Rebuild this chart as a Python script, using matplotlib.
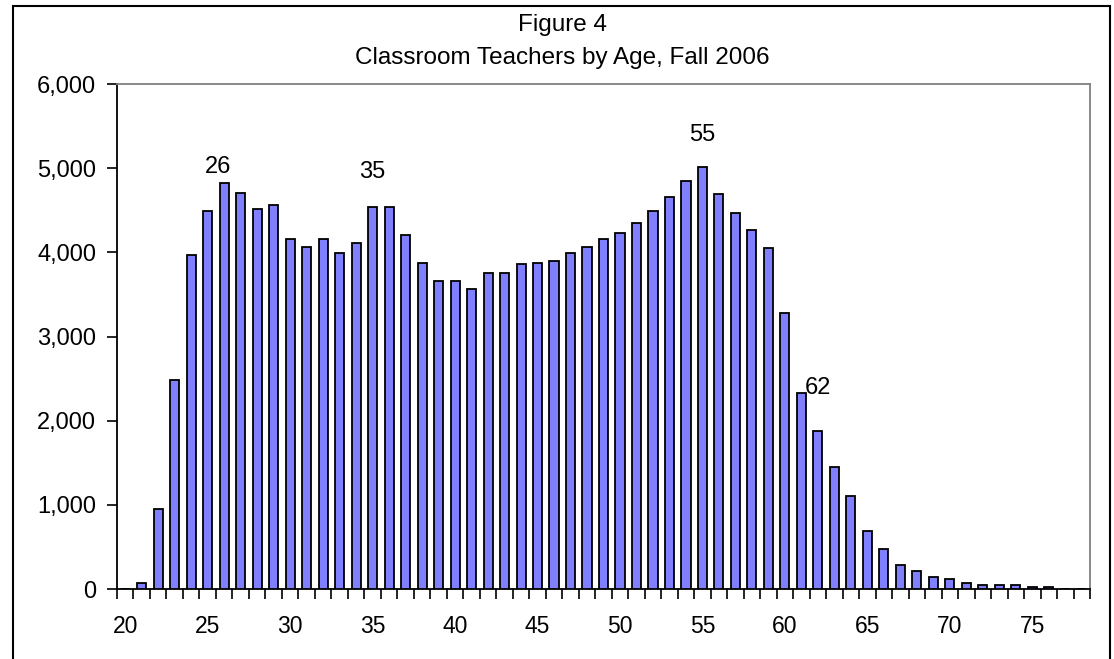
import matplotlib
matplotlib.use("Agg")
import matplotlib.pyplot as plt
import matplotlib.patches as patches
from matplotlib.ticker import FuncFormatter, MultipleLocator

plt.rcParams["font.family"] = ["Liberation Sans", "DejaVu Sans"]

# ======================
# data
# ======================
ages = list(range(20, 79))
teachers = [0, 70, 950, 2480, 3970, 4490, 4820, 4710, 4520, 4560,
            4160, 4060, 4160, 3990, 4110, 4540, 4540, 4210, 3870, 3660,
            3660, 3570, 3760, 3760, 3860, 3870, 3900, 3990, 4060, 4160,
            4230, 4350, 4490, 4660, 4850, 5020, 4690, 4470, 4260, 4050,
            3280, 2330, 1880, 1450, 1100, 690, 475, 285, 215, 140,
            120, 70, 47, 47, 47, 25, 25, 0, 0]

# peak labels: text, x, y
label_text = ["26", "35", "55", "62"]
label_x = [25.6, 35, 55, 62]
label_y = [5020, 4960, 5400, 2390]

title_1 = "Figure 4"
title_2 = "Classroom Teachers by Age, Fall 2006"

# ======================
# figure
# ======================
fig = plt.figure(figsize=(11.14, 6.59), dpi=100)
ax = fig.add_axes([0.105, 0.1062, 0.8735, 0.7663])

ax.bar(ages, teachers, width=0.55, color="#8080FF", edgecolor="black",
       linewidth=1.3, zorder=3)

for t, x, y in zip(label_text, label_x, label_y):
    ax.text(x, y, t, ha="center", va="center", fontsize=17)

ax.set_xlim(19.5, 78.5)
ax.set_ylim(0, 6000)

ax.xaxis.set_major_locator(MultipleLocator(5))
ax.set_xticks([a + 0.5 for a in range(19, 79)], minor=True)
ax.tick_params(axis="x", which="major", length=0, pad=19, labelsize=16.5)
ax.tick_params(axis="x", which="minor", length=7, width=1.2, direction="out")

ax.yaxis.set_major_locator(MultipleLocator(1000))
ax.yaxis.set_major_formatter(FuncFormatter(lambda v, p: f"{int(v):,}"))
ax.tick_params(axis="y", length=7, width=1.2, pad=8, labelsize=17)

ax.spines["left"].set_linewidth(1.3)
ax.spines["bottom"].set_linewidth(1.3)
ax.spines["top"].set_color("#808080")
ax.spines["right"].set_color("#808080")
ax.spines["top"].set_linewidth(1.3)
ax.spines["right"].set_linewidth(1.3)

fig.text(0.505, 0.962, title_1, ha="center", va="center", fontsize=17.5)
fig.text(0.505, 0.912, title_2, ha="center", va="center", fontsize=17.5)

# outer chart frame
frame = patches.Rectangle((12.5 / 1114, -0.05), 1097 / 1114, 1.05 - 6 / 659,
                          transform=fig.transFigure, fill=False,
                          edgecolor="black", linewidth=1.5, clip_on=False)
fig.add_artist(frame)

fig.savefig("out.png", dpi=100)
